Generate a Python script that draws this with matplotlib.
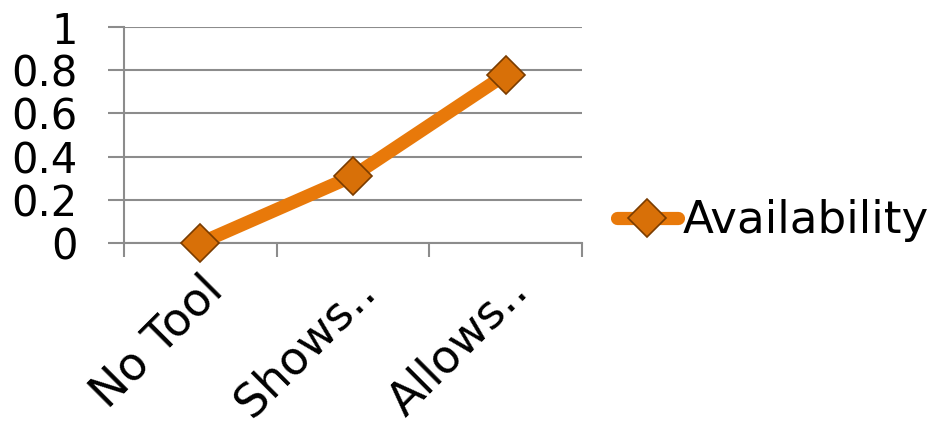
import matplotlib

matplotlib.use("Agg")
import matplotlib.pyplot as plt  # noqa: E402
import matplotlib.transforms as mtransforms  # noqa: E402
from matplotlib.ticker import FixedLocator  # noqa: E402

categories = ["No Tool", "Shows‥", "Allows‥"]
availability = [0.0, 0.31, 0.78]
y_ticks = [0, 0.2, 0.4, 0.6, 0.8, 1]
y_tick_labels = ["0", "0.2", "0.4", "0.6", "0.8", "1"]

LINE = "#E8790A"
MARKER = "#D87008"
EDGE = "#7A3C00"
GRID = "#8C8C8C"

plt.rcParams["font.family"] = ["DejaVu Sans"]
FS = 30

fig = plt.figure(figsize=(9.34, 4.30), dpi=100)
ax = fig.add_axes([124 / 934, (430 - 243) / 430, (582 - 124) / 934, 216 / 430])

xs = list(range(len(categories)))
ax.plot(xs, availability, color=LINE, linewidth=9.5, solid_capstyle="round",
        solid_joinstyle="round", marker="D", markersize=19,
        markerfacecolor=MARKER, markeredgecolor=EDGE, markeredgewidth=1.2,
        label="Availability", zorder=3, clip_on=False)

ax.set_xlim(-0.5, len(categories) - 0.5)
ax.set_ylim(0, 1)

# labels at category centres, tick marks on category boundaries
ax.set_xticks(xs)
ax.set_xticklabels(categories, rotation=45, ha="right", va="top",
                   rotation_mode="anchor", fontsize=33)
shift = mtransforms.ScaledTranslation(-8 / 100, -2 / 100, fig.dpi_scale_trans)
for lbl in ax.get_xticklabels():
    lbl.set_transform(lbl.get_transform() + shift)
ax.xaxis.set_minor_locator(FixedLocator([i - 0.5 for i in range(len(categories) + 1)]))
ax.tick_params(axis="x", which="major", length=0, pad=18)
ax.tick_params(axis="x", which="minor", length=10, width=1.5, color=GRID)

ax.set_yticks(y_ticks)
ax.set_yticklabels(y_tick_labels, fontsize=FS)
ax.tick_params(axis="y", length=11.5, width=1.5, color=GRID, pad=22)
ax.grid(axis="y", color=GRID, linewidth=1.5)
ax.set_axisbelow(True)

for side in ("top", "right"):
    ax.spines[side].set_visible(False)
for side in ("left", "bottom"):
    ax.spines[side].set_color(GRID)
    ax.spines[side].set_linewidth(1.5)
ax.spines["left"].set_bounds(0, 1)

fig.legend(loc="center left", bbox_to_anchor=(617 / 934, 1 - 221 / 430),
           frameon=False, fontsize=32.5, handlelength=1.35, handletextpad=0.1,
           borderpad=0, borderaxespad=0)

fig.savefig("out.png", dpi=100)
plt.close(fig)
